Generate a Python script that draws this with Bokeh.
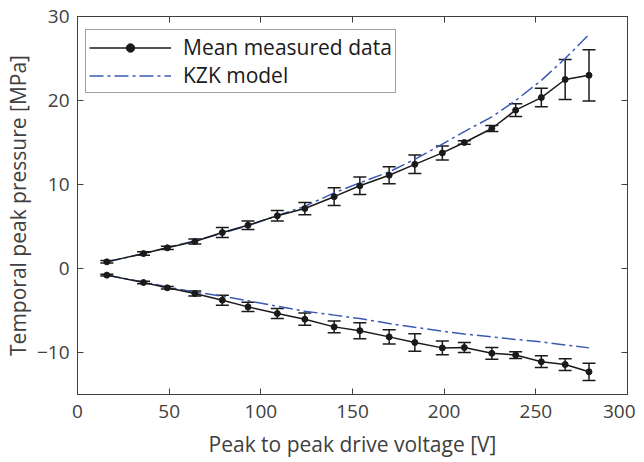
from bokeh.plotting import figure
from bokeh.models import ColumnDataSource, Whisker, TeeHead, LinearAxis, Legend, LegendItem, FixedTicker
from bokeh.embed import file_html
from bokeh.resources import INLINE

voltage = [16, 36, 49, 64, 79, 93, 109, 124, 140, 154, 170, 184, 199, 211, 226, 239, 253, 266, 279]
pos_mean = [0.79, 1.78, 2.46, 3.21, 4.28, 5.15, 6.27, 7.14, 8.55, 9.85, 11.1, 12.4, 13.76, 15.0, 16.67, 18.85, 20.35, 22.5, 23.0]
pos_err = [0.15, 0.2, 0.2, 0.3, 0.6, 0.5, 0.62, 0.73, 1.05, 1.05, 1.0, 1.1, 0.83, 0.2, 0.36, 0.75, 1.1, 2.38, 3.05]
neg_mean = [-0.79, -1.67, -2.3, -2.98, -3.77, -4.57, -5.36, -6.04, -6.95, -7.4, -8.14, -8.81, -9.45, -9.41, -10.1, -10.3, -11.1, -11.43, -12.3]
neg_err = [0.1, 0.15, 0.15, 0.3, 0.6, 0.55, 0.6, 0.73, 0.7, 0.95, 0.85, 1.03, 0.83, 0.6, 0.7, 0.4, 0.7, 0.7, 1.03]
kzk_pos = [0.8, 1.75, 2.5, 3.3, 4.2, 5.1, 6.3, 7.4, 9.0, 10.2, 11.5, 13.0, 14.8, 16.3, 18.05, 20.0, 22.4, 25.0, 27.86]
kzk_neg = [-0.8, -1.6, -2.2, -2.8, -3.3, -3.85, -4.5, -5.08, -5.55, -5.96, -6.55, -7.0, -7.46, -7.8, -8.14, -8.45, -8.73, -9.1, -9.45]

x_ticks = [0, 50, 100, 150, 200, 250, 300]
y_ticks = [-10, 0, 10, 20, 30]

FONT = "Open Sans"
AX = "#404040"
BLUE = "#3a5ab5"
BLACK = "#1a1a1a"

src_p = ColumnDataSource(dict(x=voltage, y=pos_mean, lo=[m - e for m, e in zip(pos_mean, pos_err)],
                              hi=[m + e for m, e in zip(pos_mean, pos_err)]))
src_n = ColumnDataSource(dict(x=voltage, y=neg_mean, lo=[m - e for m, e in zip(neg_mean, neg_err)],
                              hi=[m + e for m, e in zip(neg_mean, neg_err)]))

p = figure(frame_width=550, frame_height=378, x_range=(0, 300), y_range=(-15, 30),
           output_backend="svg", toolbar_location=None,
           min_border_left=68, min_border_right=8, min_border_top=16, min_border_bottom=50)
p.grid.visible = False
p.outline_line_color = AX
p.background_fill_color = "white"
p.border_fill_color = "white"

for src in (src_p, src_n):
    w = Whisker(source=src, base="x", lower="lo", upper="hi", line_color=BLACK, line_width=1.5,
                lower_head=TeeHead(size=13, line_color=BLACK, line_width=1.5),
                upper_head=TeeHead(size=13, line_color=BLACK, line_width=1.5))
    p.add_layout(w)

kp = p.line(voltage, kzk_pos, line_color=BLUE, line_width=1.5, line_dash="14 4 3 4")
kn = p.line(voltage, kzk_neg, line_color=BLUE, line_width=1.5, line_dash="14 4 3 4")
lp = p.line("x", "y", source=src_p, line_color=BLACK, line_width=1.5)
cp = p.scatter("x", "y", source=src_p, size=6, color=BLACK)
ln = p.line("x", "y", source=src_n, line_color=BLACK, line_width=1.5)
cn = p.scatter("x", "y", source=src_n, size=6, color=BLACK)

def style(ax):
    ax.axis_line_color = AX
    ax.major_tick_line_color = AX
    ax.major_tick_in = 6
    ax.major_tick_out = 0
    ax.minor_tick_line_color = None
    ax.major_label_text_font = FONT
    ax.major_label_text_font_size = "19px"
    ax.major_label_text_color = AX
    ax.axis_label_text_font = FONT
    ax.axis_label_text_font_size = "21px"
    ax.axis_label_text_color = AX
    ax.axis_label_text_font_style = "normal"

p.xaxis.ticker = FixedTicker(ticks=x_ticks)
p.yaxis.ticker = FixedTicker(ticks=y_ticks)
p.xaxis.axis_label = "Peak to peak drive voltage [V]"
p.yaxis.axis_label = "Temporal peak pressure [MPa]"
style(p.xaxis[0]); style(p.yaxis[0])
p.xaxis.major_label_standoff = 10
p.yaxis.major_label_standoff = 8
p.xaxis.axis_label_standoff = 9
p.yaxis.axis_label_standoff = 2

# mirrored inward ticks on top and right (drawn as minor ticks, so no labels)
for ticks, loc in ((x_ticks, "above"), (y_ticks, "right")):
    ax = LinearAxis(ticker=FixedTicker(ticks=[], minor_ticks=ticks))
    ax.axis_line_color = AX
    ax.major_tick_line_color = None
    ax.minor_tick_line_color = AX
    ax.minor_tick_in = 6
    ax.minor_tick_out = 0
    ax.major_label_standoff = 0
    p.add_layout(ax, loc)

legend = Legend(items=[LegendItem(label="Mean measured data", renderers=[lp, cp]),
                       LegendItem(label="KZK model", renderers=[kp])],
                location=(8, 301))
legend.glyph_width = 82
legend.glyph_height = 21
legend.spacing = 0
legend.padding = 3
legend.label_standoff = 12
legend.label_text_font = FONT
legend.label_text_font_size = "21px"
legend.label_text_color = BLACK
legend.border_line_color = AX
legend.border_line_width = 1
legend.background_fill_alpha = 1
p.add_layout(legend, "center")

open("out.html", "w").write(file_html(p, INLINE))
